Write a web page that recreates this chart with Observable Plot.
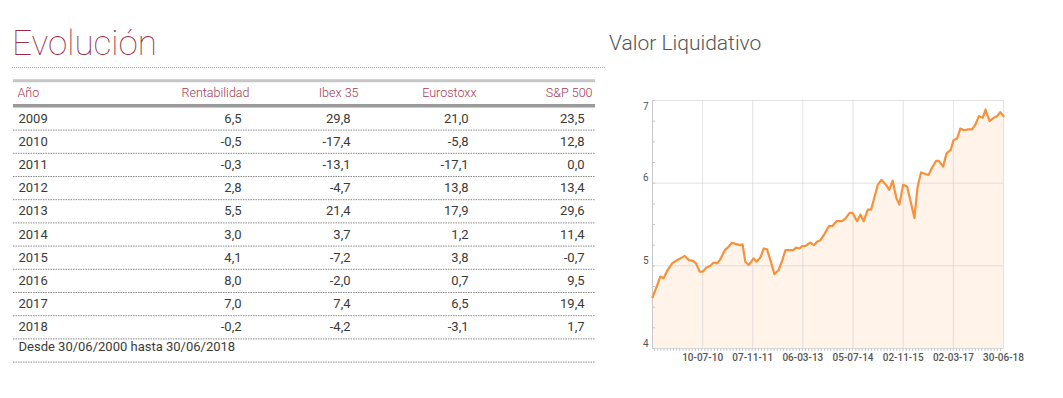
<!DOCTYPE html>
<html><head><meta charset="utf-8">
<script src="https://cdn.jsdelivr.net/npm/d3@7"></script>
<script src="https://cdn.jsdelivr.net/npm/@observablehq/plot@0.6"></script>
<style>
body{margin:0;background:#fff;width:1063px;height:398px;overflow:hidden;position:relative;font-family:Roboto,"Liberation Sans",sans-serif;}
#title{position:absolute;left:12px;top:26px;font-size:35px;font-weight:100;color:#9b2c43;line-height:1;white-space:nowrap;}
#dots{position:absolute;left:12px;top:67px;width:593px;border-top:1px dotted #aaa;}
#subtitle{position:absolute;left:609px;top:33px;font-size:21px;font-weight:300;color:#555;line-height:1;white-space:nowrap;}
#table{position:absolute;left:0;top:0;}
#chart{position:absolute;left:600px;top:90px;}
svg{overflow:visible;}
</style></head><body>
<div id="title">Evolución</div>
<div id="dots"></div>
<div id="subtitle">Valor Liquidativo</div>
<div id="table"></div>
<div id="chart"></div>
<script>
// ---- Table data ----
const columns = ["Año", "Rentabilidad", "Ibex 35", "Eurostoxx", "S&P 500"];
const years = [2009, 2010, 2011, 2012, 2013, 2014, 2015, 2016, 2017, 2018];
const rentabilidad = [6.5, -0.5, -0.3, 2.8, 5.5, 3.0, 4.1, 8.0, 7.0, -0.2];
const ibex35 = [29.8, -17.4, -13.1, -4.7, 21.4, 3.7, -7.2, -2.0, 7.4, -4.2];
const eurostoxx = [21.0, -5.8, -17.1, 13.8, 17.9, 1.2, 3.8, 0.7, 6.5, -3.1];
const sp500 = [23.5, 12.8, 0.0, 13.4, 29.6, 11.4, -0.7, 9.5, 19.4, 1.7];
const footnote = "Desde 30/06/2000 hasta 30/06/2018";

// ---- Line chart data (Valor Liquidativo) ----
const navDates = ["2009-03-12","2009-04-25","2009-05-26","2009-06-28","2009-08-01","2009-09-18","2009-11-05","2009-12-07",
"2010-01-18","2010-02-26","2010-04-08","2010-05-07","2010-06-11","2010-07-14","2010-08-15","2010-09-23","2010-10-25","2010-11-28","2010-12-29",
"2011-02-10","2011-03-18","2011-04-20","2011-06-08","2011-07-10","2011-08-01","2011-08-27","2011-09-29","2011-11-16","2011-12-12",
"2012-01-20","2012-02-22","2012-03-24","2012-04-26","2012-06-04","2012-07-15","2012-08-17","2012-09-19","2012-10-30","2012-12-02",
"2013-01-01","2013-02-02","2013-02-28","2013-03-30","2013-05-17","2013-06-19","2013-07-21","2013-08-23","2013-09-25","2013-11-12","2013-12-15",
"2014-01-26","2014-03-20","2014-04-21","2014-06-02","2014-07-01","2014-08-13","2014-09-14","2014-10-16","2014-11-24","2014-12-27",
"2015-01-28","2015-03-01","2015-04-05","2015-05-13","2015-06-21","2015-07-23","2015-08-28","2015-09-26","2015-11-02","2015-12-10",
"2016-01-11","2016-02-19","2016-03-21","2016-04-23","2016-06-04","2016-07-06","2016-08-08","2016-09-16","2016-10-11","2016-11-23","2016-12-25",
"2017-02-03","2017-03-04","2017-04-07","2017-05-08","2017-06-16","2017-07-22","2017-08-30","2017-10-02","2017-11-03","2017-12-11",
"2018-01-07","2018-02-15","2018-03-26","2018-04-28","2018-05-30","2018-06-30"];
const navValues = [4.62,4.76,4.87,4.85,4.94,5.03,5.07,5.09,
5.12,5.07,5.06,5.03,4.93,4.93,4.98,5.00,5.04,5.03,5.08,
5.19,5.23,5.28,5.26,5.25,5.26,5.05,5.01,5.09,5.05,
5.10,5.21,5.20,5.07,4.90,4.95,5.06,5.19,5.19,5.19,
5.22,5.21,5.24,5.24,5.28,5.25,5.29,5.31,5.37,5.48,5.48,
5.54,5.54,5.57,5.64,5.64,5.54,5.62,5.54,5.68,5.68,
5.83,5.98,6.04,5.99,5.92,6.03,5.82,5.74,5.98,5.96,
5.79,5.58,5.96,6.13,6.11,6.10,6.19,6.27,6.27,6.20,6.36,
6.40,6.52,6.54,6.66,6.64,6.65,6.65,6.71,6.81,6.79,
6.89,6.75,6.79,6.81,6.86,6.81];
const xDomainDates = ["2009-03-12", "2018-06-30"];
const xTickDates = ["2010-07-10","2011-11-07","2013-03-06","2014-07-05","2015-11-02","2017-03-02","2018-06-30"];
const yTicks = [4, 5, 6, 7];

// ---- Build table ----
const fmt = v => v.toFixed(1).replace(".", ",");
const tableCols = [years.map(String), ...[rentabilidad, ibex35, eurostoxx, sp500].map(s => s.map(fmt))];
// layout: column anchor offsets (pixels from the frame's left edge)
const colOffset = [5, 228, 337, 455, 571];
const headerShift = 8;
const sepRows = d3.range(0, years.length + 1).map(r => r + 0.5);
const font = "Roboto, 'Liberation Sans', sans-serif";

const tableMarks = [
  Plot.ruleY([-1.63], {stroke: "#c6c6c6", strokeWidth: 3}),
  Plot.ruleY([-0.55], {stroke: "#9a9a9a", strokeWidth: 3.5}),
  Plot.ruleY(sepRows, {stroke: "#8a8a8a", strokeWidth: 1, strokeDasharray: "1.5,1"})
];
columns.forEach((c, j) => {
  const anchor = j === 0 ? "start" : "end";
  tableMarks.push(Plot.text([c], {y: () => -1, text: d => d, frameAnchor: "left", textAnchor: anchor,
    dx: colOffset[j] + (j === 0 ? -1 : headerShift), dy: -2, fill: "#a33a52", fontSize: 12.5, fontWeight: 300}));
  tableMarks.push(Plot.text(tableCols[j], {y: (d, i) => i, text: d => d, frameAnchor: "left", textAnchor: anchor,
    dx: colOffset[j], fill: "#3a3a3a", fontSize: 13}));
});
tableMarks.push(Plot.text([footnote], {y: () => 10, text: d => d, frameAnchor: "left", textAnchor: "start",
  dx: colOffset[0], dy: -4, fill: "#3a3a3a", fontSize: 13}));

const table = Plot.plot({
  width: 612, height: 375,
  marginTop: 0, marginBottom: 0, marginLeft: 13, marginRight: 17,
  y: {domain: [0, 10], range: [118, 350], axis: null},
  style: {fontFamily: font, background: "transparent"},
  marks: tableMarks
});
document.getElementById("table").append(table);

// ---- Build line chart ----
const parse = d3.utcParse("%Y-%m-%d");
const nav = navDates.map((d, i) => ({date: parse(d), value: navValues[i]}));
const xDomain = xDomainDates.map(parse);
const xTicks = xTickDates.map(parse);
const monthTicks = d3.utcMonth.range(xDomain[0], xDomain[1]);
const minorY = d3.range(4, 7.001, 0.25);

const chart = Plot.plot({
  width: 420, height: 280,
  marginLeft: 52, marginRight: 17, marginTop: 10, marginBottom: 22,
  x: {type: "utc", domain: xDomain},
  y: {domain: [4, 7]},
  style: {fontFamily: font, fontSize: "10px", color: "#555", background: "transparent"},
  marks: [
    Plot.areaY(nav, {x: "date", y: "value", fill: "#fff3ea", clip: true}),
    Plot.gridX(xTicks, {stroke: "#ccc", strokeOpacity: 0.55}),
    Plot.gridY([5, 6, 7], {stroke: "#ccc", strokeOpacity: 0.55}),
    Plot.ruleY([4], {stroke: "#ddd"}),
    Plot.ruleX([xDomain[0]], {stroke: "#c8c8c8"}),
    Plot.axisX(monthTicks, {tickSize: 3, text: null, stroke: "#c8c8c8", label: null}),
    Plot.axisX(xTicks, {tickSize: 0, tickPadding: 5, tickFormat: d3.utcFormat("%d-%m-%y"), fill: "#555", fontWeight: 500, label: null}),
    Plot.axisY(minorY, {tickSize: -3, text: null, stroke: "#c8c8c8", label: null}),
    Plot.axisY(yTicks.filter(v => v < 7), {tickSize: 0, tickPadding: 4, dy: -5, tickFormat: d => String(d), fill: "#555", label: null}),
    Plot.axisY(yTicks.filter(v => v === 7), {tickSize: 0, tickPadding: 4, dy: 6, tickFormat: d => String(d), fill: "#555", label: null}),
    Plot.lineY(nav, {x: "date", y: "value", stroke: "#f7913a", strokeWidth: 2.2, strokeLinejoin: "round"})
  ]
});
document.getElementById("chart").append(chart);
</script>
</body></html>
